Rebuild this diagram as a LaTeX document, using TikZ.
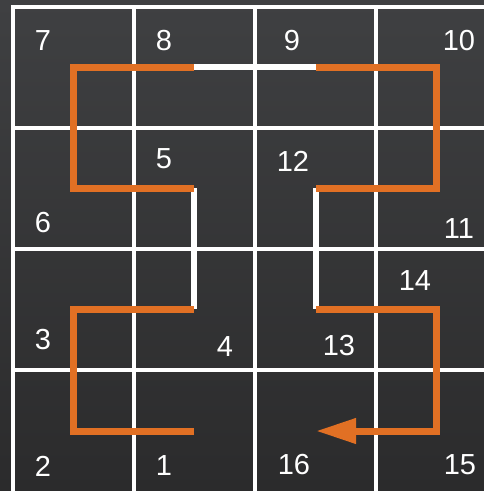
\documentclass[tikz,border=0pt]{standalone}
\usepackage{fontspec}
\setmainfont{Liberation Sans}
\usetikzlibrary{arrows.meta}
\definecolor{bgtop}{RGB}{63,64,66}
\definecolor{bgbot}{RGB}{43,43,44}
\definecolor{curve}{RGB}{225,112,36}
\begin{document}
\begin{tikzpicture}[x=1pt,y=-1pt,
  gridline/.style={white,line width=3.5pt},
  orangepath/.style={curve,line width=7pt,line join=miter},
  link/.style={white,line width=6pt},
  num/.style={white,font=\fontsize{29}{29}\selectfont,inner sep=0pt}]
\useasboundingbox (0,0) rectangle (484,491);
\shade[top color=bgtop,bottom color=bgbot] (0,0) rectangle (484,491);
% grid
\foreach \x in {13,134,255,376} \draw[gridline] (\x,5.25) -- (\x,491);
\foreach \y in {7,128,249,370} \draw[gridline] (11.25,\y) -- (484,\y);
% curve points
\coordinate (p1) at (194,431);
\coordinate (p2) at (73,431);
\coordinate (p3) at (73,309);
\coordinate (p4) at (194,309);
\coordinate (p5) at (194,188);
\coordinate (p6) at (73,188);
\coordinate (p7) at (73,67);
\coordinate (p8) at (194,67);
\coordinate (p9) at (316,67);
\coordinate (p10) at (436,67);
\coordinate (p11) at (436,188);
\coordinate (p12) at (316,188);
\coordinate (p13) at (316,309);
\coordinate (p14) at (436,309);
\coordinate (p15) at (436,431);
\coordinate (p16) at (316,431);
% white links
\draw[link] (p4) -- (p5);
\draw[link] (p8) -- (p9);
\draw[link] (p12) -- (p13);
% orange pieces
\draw[orangepath] (p1) -- (p2) -- (p3) -- (p4);
\draw[orangepath] (p5) -- (p6) -- (p7) -- (p8);
\draw[orangepath] (p9) -- (p10) -- (p11) -- (p12);
\draw[orangepath,-{Triangle[length=40pt,width=24pt]}] (p13) -- (p14) -- (p15) -- (p16);
% labels
\node[num] (n7) at (43,41) {7};
\node[num] (n8) at (164,41) {8};
\node[num] (n9) at (292,41) {9};
\node[num] (n10) at (459,41) {10};
\node[num] (n5) at (164,159) {5};
\node[num] (n12) at (293,161) {12};
\node[num] (n6) at (43,223) {6};
\node[num] (n11) at (459,229) {11};
\node[num] (n14) at (415,281) {14};
\node[num] (n3) at (43,340) {3};
\node[num] (n4) at (225,347) {4};
\node[num] (n13) at (339,346) {13};
\node[num] (n2) at (43,466) {2};
\node[num] (n1) at (164,466) {1};
\node[num] (n16) at (294,465) {16};
\node[num] (n15) at (460,465) {15};
\end{tikzpicture}
\end{document}
